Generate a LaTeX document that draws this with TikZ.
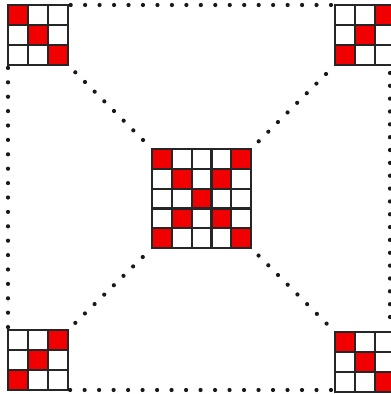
\documentclass[tikz,border=0pt]{standalone}
\usetikzlibrary{calc}
\definecolor{cellred}{RGB}{240,0,0}
\tikzset{
  gridnode/.style={inner sep=0pt, outer sep=0pt, draw=none},
  gridline/.style={line width=0.55mm, black!85, line cap=rect},
  redcell/.style={fill=cellred},
  dotstyle/.style={fill=black!90}
}
\newcommand\mygrid[6]{%
  \node[gridnode, minimum size=#4*#5*0.25mm, anchor=north west] (#1) at (#2,#3) {};
  \foreach \gi/\gj in {#6} {\fill[redcell] ($(#1.north west)+(\gj*#5,\gi*#5)$) rectangle +(#5,#5);}
  \foreach \gk in {0,...,#4} {
    \draw[gridline] ($(#1.north west)+(\gk*#5,0)$) -- +(0,#4*#5);
    \draw[gridline] ($(#1.north west)+(0,\gk*#5)$) -- +(#4*#5,0);
  }%
}
\newcommand\dotrow[5]{%
  \foreach \dk in {0,...,#5} {
    \pgfmathsetmacro\dott{#3+(#4-#3)*\dk/#5}
    \fill[dotstyle] ($(#1)!\dott!(#2)$) circle[radius=2.1];
  }%
}
\begin{document}
\begin{tikzpicture}[x=0.25mm,y=-0.25mm]
\useasboundingbox (0,0) rectangle (391,394);
\clip (0,0) rectangle (391,394);
\fill[white] (0,0) rectangle (391,394);
% grids
\mygrid{tl}{8}{5}{3}{20}{0/0,1/1,2/2}
\mygrid{tr}{335}{5}{3}{20}{0/2,1/1,2/0}
\mygrid{bl}{8}{330}{3}{20}{0/2,1/1,2/0}
\mygrid{br}{335}{332}{3}{20}{0/0,1/1,2/2}
\mygrid{c}{152}{149}{5}{19.8}{0/0,1/1,2/2,3/3,4/4,0/4,1/3,3/1,4/0}
\coordinate (rtop) at (390,65);
\coordinate (rbot) at (390,330);
% dotted connectors
\dotrow{tl.north east}{tr.north west}{0.010}{0.985}{18}
\dotrow{tl.south west}{bl.north west}{0.011}{0.989}{18}
\dotrow{bl.south east}{bl.south east -| br.south west}{0.008}{0.985}{18}
\dotrow{rtop}{rbot}{0.030}{0.951}{19}
\dotrow{tl.south east}{c.north west}{0.087}{0.893}{7}
\dotrow{tr.south west}{c.north east}{0.107}{0.908}{7}
\dotrow{c.south west}{bl.north east}{0.110}{0.913}{7}
\dotrow{c.south east}{br.north west}{0.090}{0.900}{7}
\end{tikzpicture}
\end{document}
